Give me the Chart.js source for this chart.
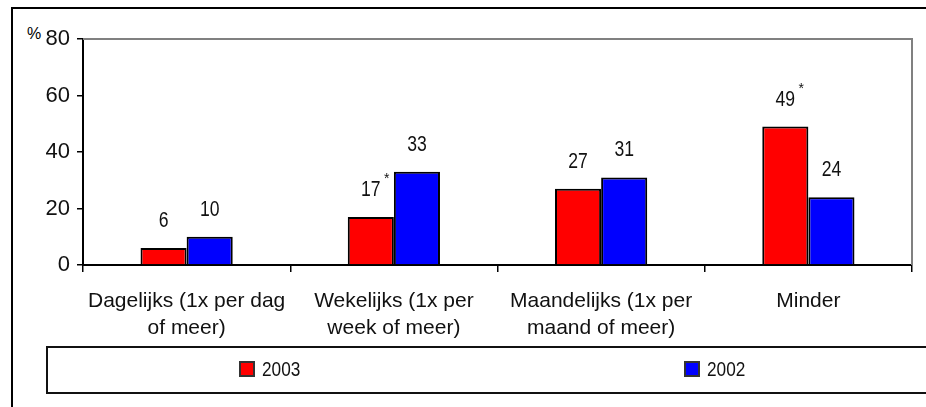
<!DOCTYPE html>
<html lang="nl">
<head>
  <meta charset="UTF-8" />
  <title>Frequentie</title>
  <script src="https://cdn.jsdelivr.net/npm/chart.js"></script>
  <style>
    body {
      margin: 0;
      background: #fff;
      width: 926px;
      height: 407px;
      overflow: hidden;
      position: relative;
      font-family: 'Liberation Sans', Arial, sans-serif;
    }
    .frame {
      position: absolute;
      left: 11px;
      top: 7px;
      width: 1000px;
      height: 500px;
      border-left: 2px solid #000;
      border-top: 2px solid #000;
    }
    .legend {
      position: absolute;
      left: 46px;
      top: 346px;
      width: 1000px;
      height: 44px;
      border: 2px solid #111;
    }
    .legend div {
      position: absolute;
      top: 13px;
      height: 16px;
    }
    .legend i {
      position: absolute;
      left: 0;
      top: 0;
      width: 12px;
      height: 12px;
      border: 2px solid #333;
    }
    .legend span {
      position: absolute;
      left: 23px;
      top: -4px;
      font-family: 'Liberation Sans', Arial, sans-serif;
      font-size: 21px;
      line-height: 24px;
      color: #111;
      transform: scaleX(0.82);
      transform-origin: left center;
      white-space: nowrap;
    }
    .pct {
      position: absolute;
      left: 27px;
      top: 25px;
      font-size: 16px;
      color: #000;
    }
    canvas { position: absolute; left: 0; top: 0; }
  </style>
</head>
<body>
  <div class="frame"></div>
  <div class="pct">%</div>
  <canvas id="chart" width="926" height="407"></canvas>
  <div class="legend" id="legend"></div>

  <script>
    const categories = [
      ['Dagelijks (1x per dag', 'of meer)'],
      ['Wekelijks (1x per', 'week of meer)'],
      ['Maandelijks (1x per', 'maand of meer)'],
      ['Minder']
    ];
    const values2003 = [6, 17, 27, 49];
    const values2002 = [10, 33, 31, 24];
    // significant verschil t.o.v. 2002
    const marks2003 = ['', '*', '', '*'];
    const yTicks = [0, 20, 40, 60, 80];

    // waarden boven de staven + sterretjes (smal lettertype nagebootst)
    const valueLabels = {
      id: 'valueLabels',
      afterDatasetsDraw(chart) {
        const ctx = chart.ctx;
        const sx = 0.8;
        chart.data.datasets.forEach((ds, di) => {
          chart.getDatasetMeta(di).data.forEach((bar, i) => {
            const txt = String(ds.data[i]);
            const y = bar.y - 21;
            ctx.save();
            ctx.fillStyle = '#111';
            ctx.textAlign = 'center';
            ctx.textBaseline = 'alphabetic';
            ctx.font = "22px 'Liberation Sans', Arial, sans-serif";
            const w = ctx.measureText(txt).width * sx;
            ctx.translate(bar.x, y);
            ctx.scale(sx, 1);
            ctx.fillText(txt, 0, 0);
            ctx.restore();
            if (ds.marks && ds.marks[i]) {
              ctx.save();
              ctx.fillStyle = '#111';
              ctx.textAlign = 'center';
              ctx.font = "14px 'Liberation Sans', Arial, sans-serif";
              ctx.fillText(ds.marks[i], bar.x + w / 2 + 6, y - 13);
              ctx.restore();
            }
          });
        });
      }
    };

    // grijze rand boven en rechts van het plotgebied
    const plotFrame = {
      id: 'plotFrame',
      beforeDatasetsDraw(chart) {
        const a = chart.chartArea;
        const ctx = chart.ctx;
        ctx.save();
        ctx.strokeStyle = '#808080';
        ctx.lineWidth = 2;
        ctx.beginPath();
        ctx.moveTo(a.left, a.top);
        ctx.lineTo(a.right, a.top);
        ctx.lineTo(a.right, a.bottom);
        ctx.stroke();
        ctx.restore();
      }
    };

    const chart = new Chart(document.getElementById('chart').getContext('2d'), {
      type: 'bar',
      data: {
        labels: categories,
        datasets: [
          {
            label: '2003',
            data: values2003,
            marks: marks2003,
            backgroundColor: '#ff0000',
            borderColor: '#000',
            borderWidth: 2
          },
          {
            label: '2002',
            data: values2002,
            backgroundColor: '#0000ff',
            borderColor: '#000',
            borderWidth: 2
          }
        ]
      },
      options: {
        responsive: false,
        animation: false,
        layout: { padding: { left: 0, top: 39, right: 14, bottom: 62 } },
        plugins: {
          legend: { display: false },
          tooltip: { enabled: false }
        },
        datasets: {
          bar: { barPercentage: 1, categoryPercentage: 0.445 }
        },
        scales: {
          x: {
            afterFit(scale) { scale.height = 80; },
            grid: {
              offset: true,
              drawOnChartArea: false,
              drawTicks: true,
              tickLength: 7,
              color: '#000',
              lineWidth: 1.5
            },
            border: { color: '#000', width: 2 },
            ticks: {
              color: '#111',
              padding: 15,
              maxRotation: 0,
              autoSkip: false,
              font: { family: "'Liberation Sans', Arial, sans-serif", size: 21, lineHeight: 1.32 }
            }
          },
          y: {
            min: 0,
            max: 80,
            afterFit(scale) { scale.width = 83; },
            afterBuildTicks(scale) { scale.ticks = yTicks.map(v => ({ value: v })); },
            grid: {
              drawOnChartArea: false,
              drawTicks: true,
              tickLength: 6,
              color: '#000',
              lineWidth: 1.5
            },
            border: { color: '#000', width: 2 },
            ticks: {
              color: '#111',
              padding: 7,
              font: { family: "'Liberation Sans', Arial, sans-serif", size: 22 }
            }
          }
        }
      },
      plugins: [plotFrame, valueLabels]
    });

    // legenda in een kader onder de grafiek
    const legendBox = document.getElementById('legend');
    const legendX = [191, 636];
    chart.data.datasets.forEach((ds, i) => {
      const item = document.createElement('div');
      item.style.left = legendX[i] + 'px';
      item.innerHTML = '<i style="background:' + ds.backgroundColor + '"></i><span>' + ds.label + '</span>';
      legendBox.appendChild(item);
    });
  </script>
</body>
</html>
